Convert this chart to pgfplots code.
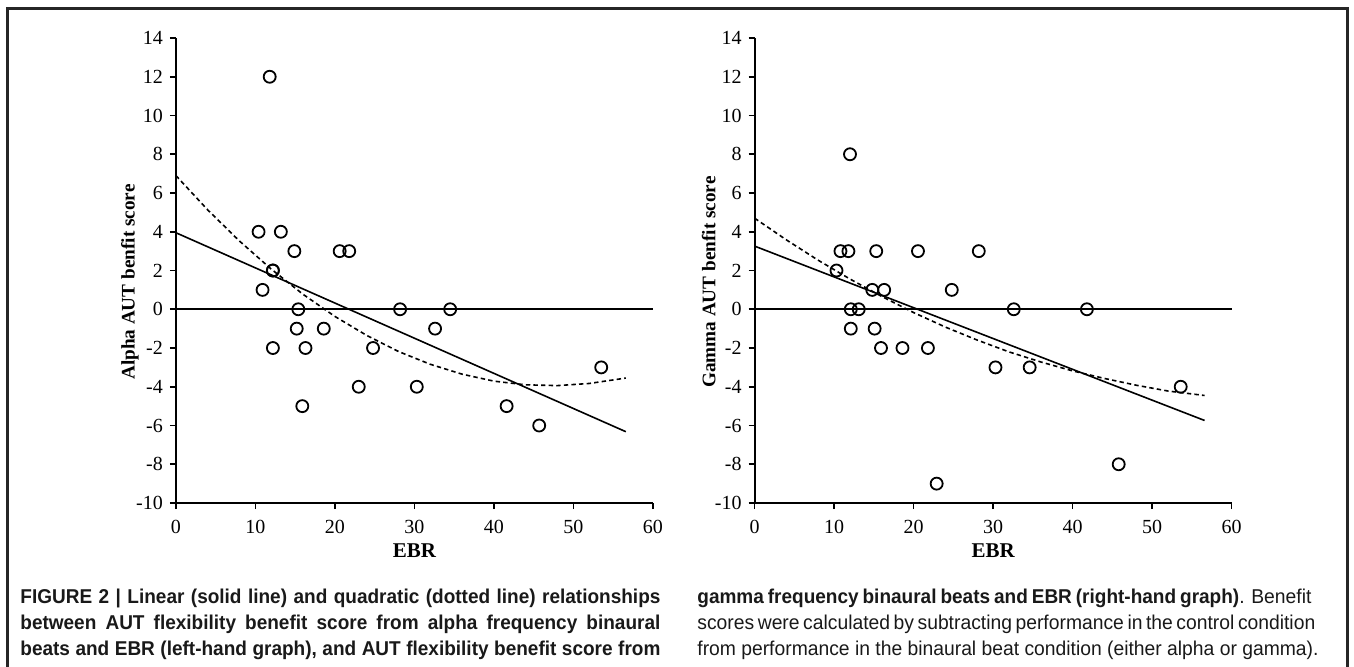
\documentclass[border=0pt]{standalone}
\usepackage{pgfplots}
\pgfplotsset{compat=1.18}
\usepackage{fontspec}
\setmainfont{Liberation Serif}
\newfontfamily\capreg{Liberation Sans}[FakeStretch=0.965]
\newfontfamily\capbold{Liberation Sans}[FakeStretch=0.95]
\newcommand\capb{\capbold\bfseries}

\pgfplotsset{
  ebrplot/.style={
    scale only axis,
    width=238.5pt, height=232.5pt,
    xmin=0, xmax=60, ymin=-10, ymax=14,
    xtick={0,10,...,60}, ytick={-10,-8,...,14},
    axis x line=bottom, axis y line=left,
    axis line style={-, line width=0.9pt},
    every outer x axis line/.append style={-},
    every outer y axis line/.append style={-},
    tick align=outside, major tick length=3pt,
    tick style={line width=0.8pt, black},
    /pgf/number format/assume math mode=true,
    ticklabel style={font=\fontsize{10}{12}\selectfont},
    xticklabel style={yshift=-2pt},
    xlabel={EBR},
    xlabel style={font=\fontsize{10.5}{12}\selectfont\bfseries, at={(axis description cs:0.5,-0.103)}, anchor=center},
    ylabel style={font=\fontsize{9.6}{12}\selectfont\bfseries, at={(axis description cs:-0.0964,0.475)}, anchor=center, rotate=0},
    clip=false,
  },
  pts/.style={only marks, mark=o, mark size=3pt, mark options={line width=0.9pt, black}},
  lin/.style={black, line width=0.8pt, no marks},
  quad/.style={black, line width=0.8pt, no marks, dash pattern=on 2.2pt off 1.6pt},
}

\begin{document}
\begin{tikzpicture}
\useasboundingbox (0,0) rectangle (677pt,-333pt);
\draw[line width=1.5pt, black!85] (3.5pt,-340pt) -- (3.5pt,-4pt) -- (673.5pt,-4pt) -- (673.5pt,-340pt);

% left: alpha
\begin{axis}[ebrplot, at={(87.95pt,-251.5pt)}, anchor=south west,
  ylabel={Alpha AUT benfit score}]
\addplot[lin] coordinates {(0,0) (60,0)};
\addplot[lin] coordinates {(0,3.95) (56.6,-6.32)};
\addplot[quad] coordinates {
  (0,6.90) (4,5.13) (8,3.52) (12,2.07) (16,0.77) (20,-0.37) (24,-1.35)
  (28,-2.18) (32,-2.84) (36,-3.35) (40,-3.71) (44,-3.90) (48,-3.94)
  (52,-3.83) (56.6,-3.55)};
\addplot[pts] coordinates {
  (11.8,12) (10.4,4) (13.2,4) (14.9,3) (20.6,3) (21.8,3) (12.2,2) (12.2,2)
  (10.9,1) (15.4,0) (28.2,0) (34.5,0) (15.2,-1) (18.6,-1) (32.6,-1)
  (12.2,-2) (16.3,-2) (24.8,-2) (53.5,-3) (23.0,-4) (30.3,-4)
  (15.9,-5) (41.6,-5) (45.7,-6)};
\end{axis}

% right: gamma
\begin{axis}[ebrplot, at={(377.3pt,-251.5pt)}, anchor=south west,
  ylabel={Gamma AUT benfit score}]
\addplot[lin] coordinates {(0,0) (60,0)};
\addplot[lin] coordinates {(0,3.26) (56.6,-5.74)};
\addplot[quad] coordinates {
  (0,4.70) (4,3.58) (8,2.53) (12,1.56) (16,0.66) (20,-0.17) (24,-0.92)
  (28,-1.59) (32,-2.20) (36,-2.72) (40,-3.18) (44,-3.57) (48,-3.92)
  (52,-4.22) (56.6,-4.45)};
\addplot[pts] coordinates {
  (12.0,8) (10.8,3) (11.8,3) (15.3,3) (20.55,3) (28.2,3) (10.3,2)
  (14.8,1) (16.3,1) (24.8,1) (12.1,0) (13.1,0) (32.6,0) (41.8,0)
  (12.1,-1) (15.1,-1) (15.9,-2) (18.6,-2) (21.8,-2) (30.3,-3) (34.6,-3)
  (53.6,-4) (45.8,-8) (22.9,-9)};
\end{axis}

% caption
\begin{scope}[every node/.style={anchor=base west, inner sep=0pt, font=\capreg\fontsize{10}{13}\selectfont, text=black!90}]
\node at (10pt,-301.5pt) {\makebox[320pt][s]{\capb FIGURE 2 | Linear (solid line) and quadratic (dotted line) relationships}};
\node at (10pt,-314.5pt) {\makebox[320pt][s]{\capb between AUT flexibility benefit score from alpha frequency binaural}};
\node at (10pt,-327.5pt) {\makebox[320pt][s]{\capb beats and EBR (left-hand graph), and AUT flexibility benefit score from}};
\node at (348.5pt,-301.5pt) {\makebox[307pt][s]{{\capb gamma frequency binaural beats and EBR (right-hand graph)}. Benefit}};
\node at (348.5pt,-314.5pt) {\makebox[307pt][s]{scores were calculated by subtracting performance in the control condition}};
\node at (348.5pt,-327.5pt) {from performance in the binaural beat condition (either alpha or gamma).};
\end{scope}
\end{tikzpicture}
\end{document}
